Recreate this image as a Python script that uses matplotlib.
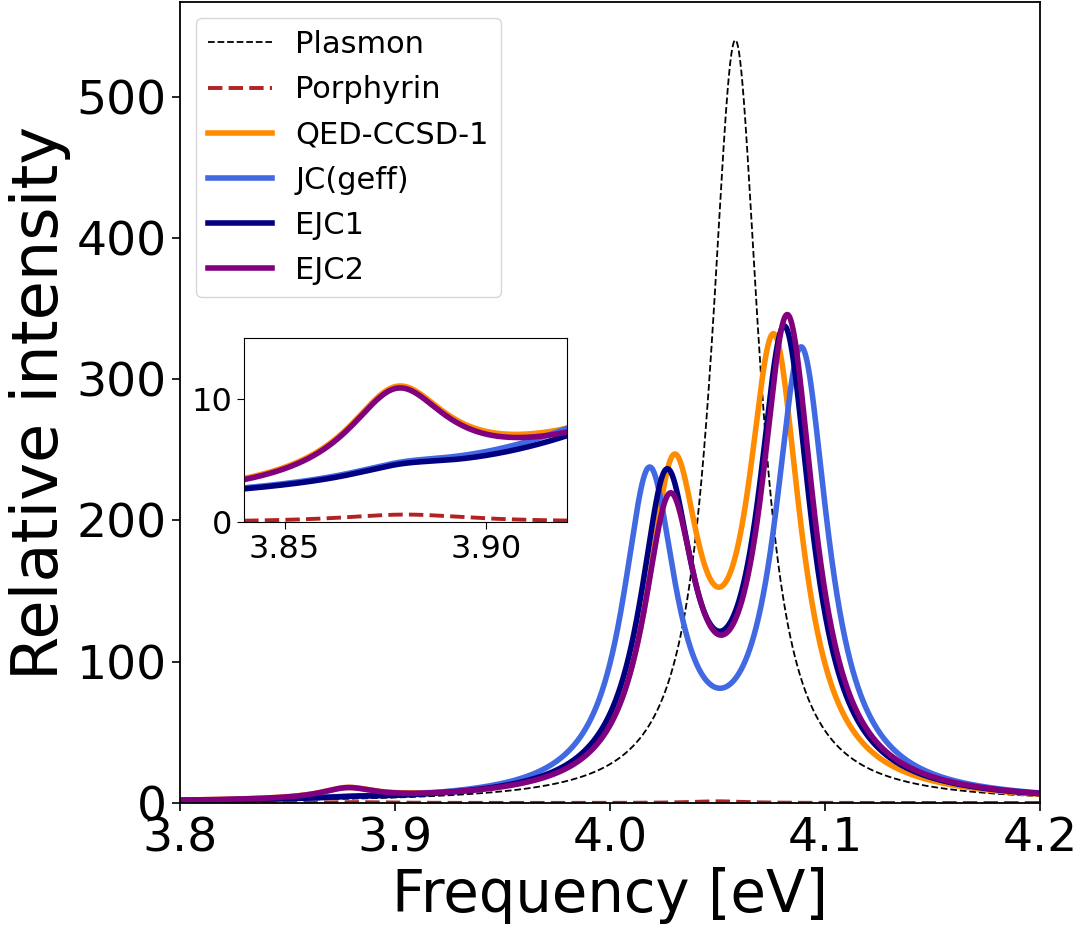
import numpy as np
import matplotlib
matplotlib.use("Agg")
import matplotlib.pyplot as plt

# ---- data: peak positions [eV], peak amplitudes, half-widths [eV] ----
labels = ["Plasmon", "Porphyrin", "QED-CCSD-1", "JC(geff)", "EJC1", "EJC2"]
colors = ["black", "firebrick", "darkorange", "royalblue", "navy", "purple"]

plasmon_E = [4.0583]
plasmon_h = [540.0]
plasmon_g = [0.0135]

porphyrin_E = [3.880, 4.050]
porphyrin_h = [0.62, 1.2]
porphyrin_g = [0.020, 0.015]

qed_E = [3.878, 4.0296, 4.0763]
qed_h = [7.2, 217.5, 311.7]
qed_g = [0.015, 0.015, 0.015]

jc_E = [3.879, 4.0183, 4.0890]
jc_h = [0.75, 224.3, 313.2]
jc_g = [0.015, 0.015, 0.015]

ejc1_E = [3.879, 4.0263, 4.0812]
ejc1_h = [0.8, 214.0, 322.8]
ejc1_g = [0.015, 0.015, 0.015]

ejc2_E = [3.878, 4.0278, 4.0826]
ejc2_h = [7.2, 196.2, 332.0]
ejc2_g = [0.015, 0.015, 0.015]

xlim_main = (3.8, 4.2)
xlim_inset = (3.84, 3.92)
ylim_inset = (0, 15)


def spectrum(x, E, h, g):
    y = np.zeros_like(x)
    for e, a, w in zip(E, h, g):
        y += a * w**2 / ((x - e) ** 2 + w**2)
    return y


x = np.linspace(3.78, 4.22, 4000)
curves = [
    spectrum(x, plasmon_E, plasmon_h, plasmon_g),
    spectrum(x, porphyrin_E, porphyrin_h, porphyrin_g),
    spectrum(x, qed_E, qed_h, qed_g),
    spectrum(x, jc_E, jc_h, jc_g),
    spectrum(x, ejc1_E, ejc1_h, ejc1_g),
    spectrum(x, ejc2_E, ejc2_h, ejc2_g),
]
styles = [
    dict(ls="--", lw=1.3),
    dict(ls="--", lw=2.8),
    dict(ls="-", lw=4),
    dict(ls="-", lw=4),
    dict(ls="-", lw=4),
    dict(ls="-", lw=4),
]

fig = plt.figure(figsize=(10.84, 9.32), dpi=100)
ax = fig.add_axes([0.166, 0.1384, 0.7934, 0.8595])
for y, lab, c, st in zip(curves, labels, colors, styles):
    ax.plot(x, y, color=c, label=lab, **st)
ax.set_xlim(*xlim_main)
ax.set_ylim(0, max(plasmon_h) * 1.05)
ax.set_xticks([3.8, 3.9, 4.0, 4.1, 4.2])
ax.set_yticks([0, 100, 200, 300, 400, 500])
ax.tick_params(labelsize=34, length=6, width=1.2)
ax.set_xlabel("Frequency [eV]", fontsize=41.5)
ax.set_ylabel("Relative intensity", fontsize=46)
for s in ax.spines.values():
    s.set_linewidth(1.3)
ax.legend(loc="upper left", fontsize=22, handlelength=2.1, borderaxespad=0.52,
          labelspacing=0.53, handletextpad=0.75, framealpha=0.8)

ins = fig.add_axes([0.2254, 0.4396, 0.2974, 0.1977])
for y, lab, c, st in zip(curves, labels, colors, styles):
    if lab == "Plasmon":
        continue
    ins.plot(x, y, color=c, **st)
ins.set_xlim(*xlim_inset)
ins.set_ylim(*ylim_inset)
ins.set_xticks([3.85, 3.90])
ins.set_xticklabels(["3.85", "3.90"])
ins.set_yticks([0, 10])
ins.tick_params(labelsize=23, length=5)

fig.savefig("out.png", dpi=100)
